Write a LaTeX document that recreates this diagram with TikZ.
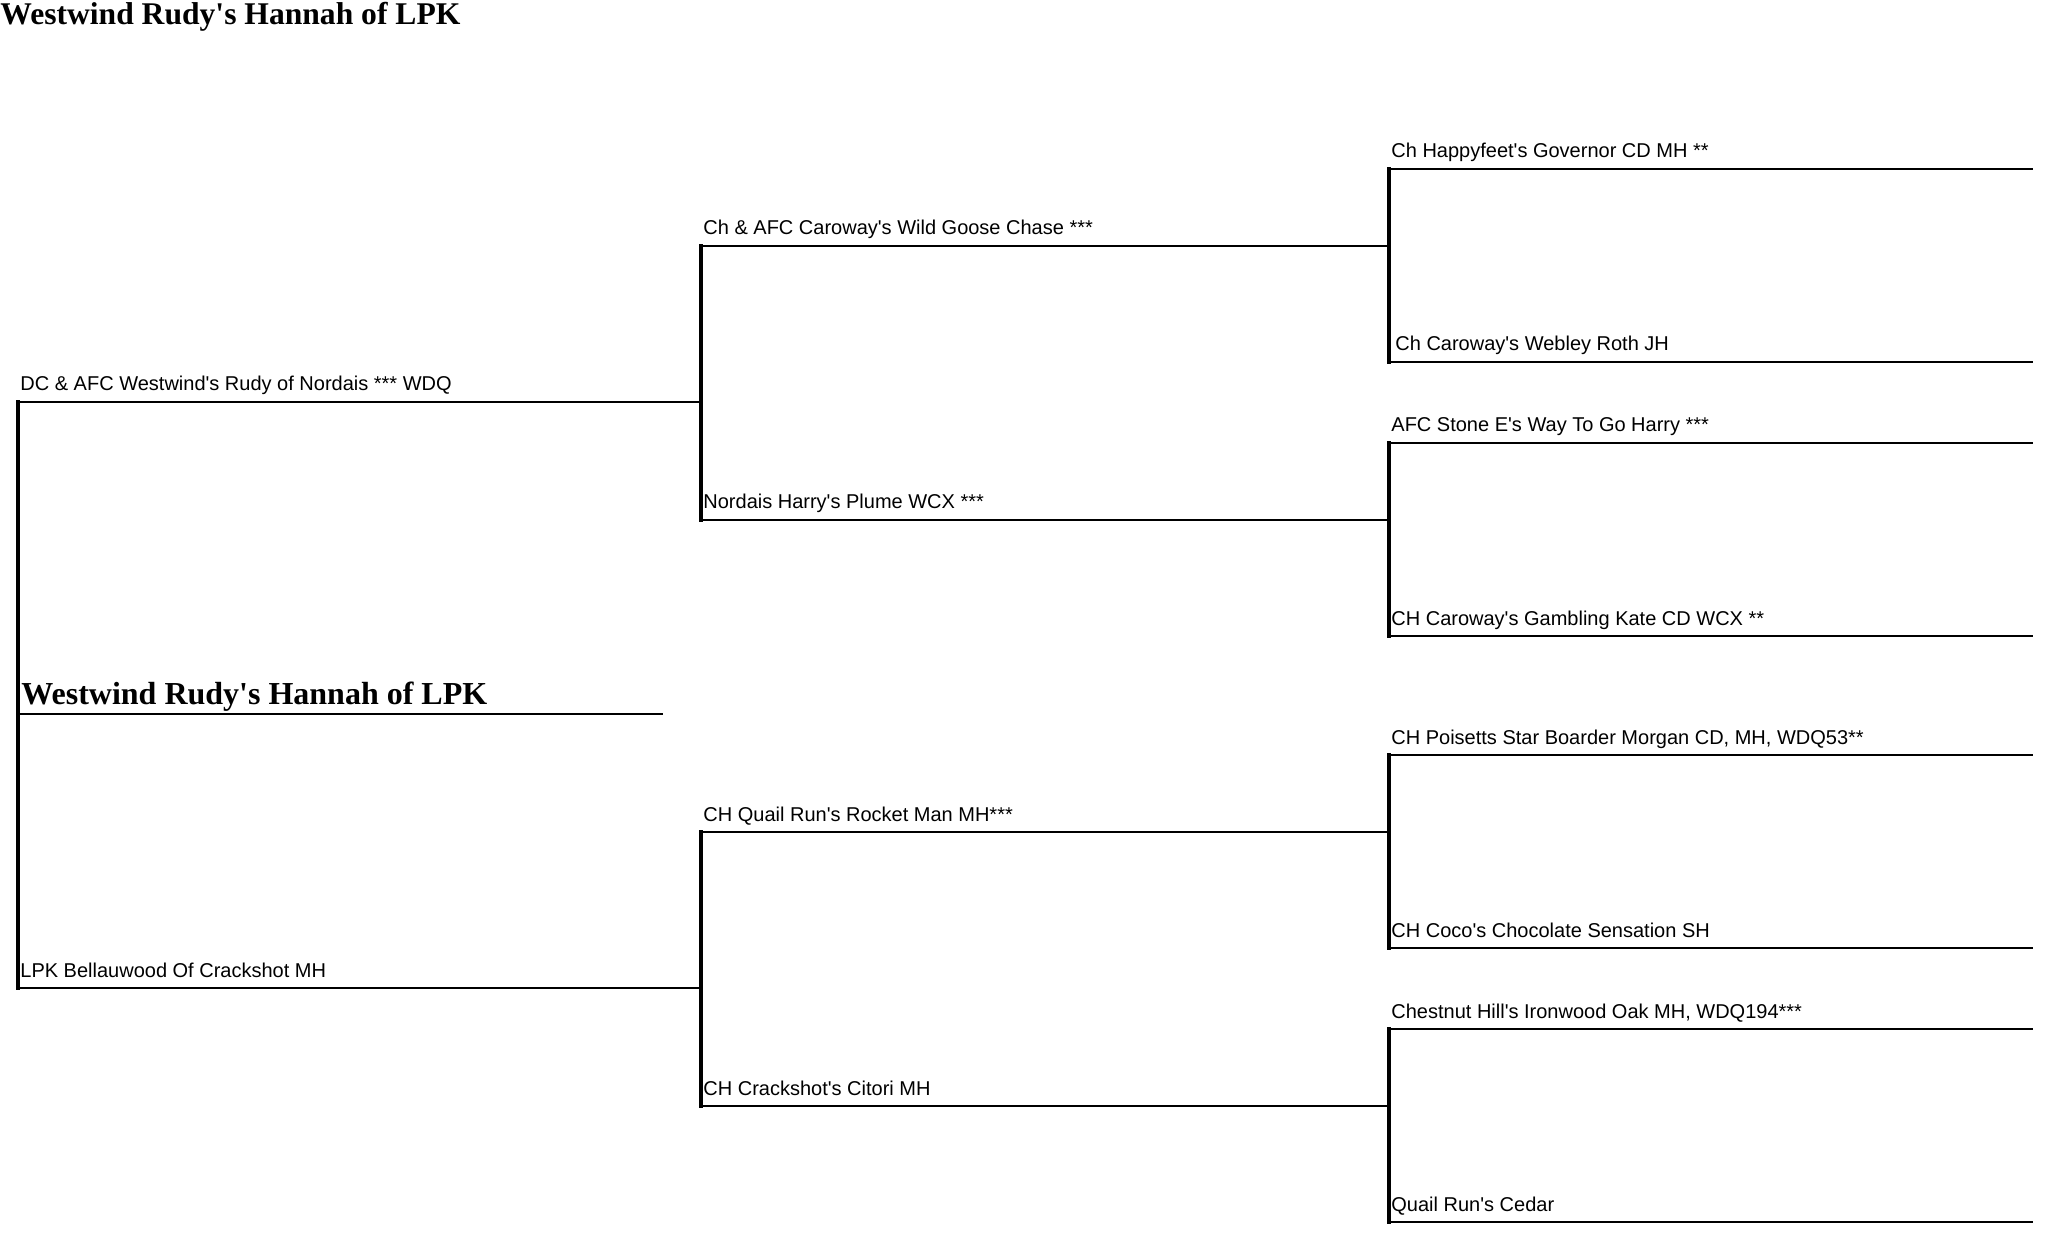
\documentclass[tikz,border=0pt]{standalone}
\usepackage{fontspec}
\setmainfont{Liberation Serif}
\newfontfamily\namefont{Liberation Sans}
\newfontfamily\headfont{Liberation Serif}
\begin{document}
\begin{tikzpicture}[x=0.5pt,y=-0.5pt,
  dogname/.style={font=\namefont\fontsize{10pt}{12pt}\selectfont, anchor=base west, inner sep=0pt},
  headtext/.style={font=\headfont\bfseries\fontsize{16pt}{19pt}\selectfont, anchor=base west, inner sep=0pt},
  hline/.style={line width=1.1pt},
  vline/.style={line width=1.6pt, line cap=rect}]
\useasboundingbox (0,0) rectangle (2048,1240);

% title
\node[headtext, font=\headfont\bfseries\fontsize{15.8pt}{19pt}\selectfont] (toptitle) at (0,25) {Westwind Rudy's Hannah of LPK};

% subject
\coordinate (h-a) at (18,714); \coordinate (h-b) at (663,714);
\node[headtext] (hannah) at (21,704) {Westwind Rudy's Hannah of LPK};
\draw[hline] (h-a) -- (h-b);

% generation 1
\coordinate (s-a) at (18,402); \coordinate (s-b) at (701,402);
\coordinate (d-a) at (18,988); \coordinate (d-b) at (701,988);
\node[dogname] (s) at (20,391) {DC \& AFC Westwind's Rudy of Nordais *** WDQ};
\node[dogname] (d) at (20,977) {LPK Bellauwood Of Crackshot MH};
\draw[hline] (s-a) -- (s-b);
\draw[hline] (d-a) -- (d-b);
\draw[vline] (s-a) -- (d-a);

% generation 2
\coordinate (ss-a) at (701,246);  \coordinate (ss-b) at (1389,246);
\coordinate (sd-a) at (701,520);  \coordinate (sd-b) at (1389,520);
\coordinate (ds-a) at (701,832);  \coordinate (ds-b) at (1389,832);
\coordinate (dd-a) at (701,1106); \coordinate (dd-b) at (1389,1106);
\node[dogname] (ss) at (703,235)  {Ch \& AFC Caroway's Wild Goose Chase ***};
\node[dogname] (sd) at (703,509)  {Nordais Harry's Plume WCX ***};
\node[dogname] (ds) at (703,821)  {CH Quail Run's Rocket Man MH***};
\node[dogname] (dd) at (703,1095) {CH Crackshot's Citori MH};
\foreach \p in {ss,sd,ds,dd} {\draw[hline] (\p-a) -- (\p-b);}
\draw[vline] (ss-a) -- (sd-a);
\draw[vline] (ds-a) -- (dd-a);

% generation 3
\coordinate (sss-a) at (1389,169);  \coordinate (sss-b) at (2033,169);
\coordinate (ssd-a) at (1389,362);  \coordinate (ssd-b) at (2033,362);
\coordinate (sds-a) at (1389,443);  \coordinate (sds-b) at (2033,443);
\coordinate (sdd-a) at (1389,636);  \coordinate (sdd-b) at (2033,636);
\coordinate (dss-a) at (1389,755);  \coordinate (dss-b) at (2033,755);
\coordinate (dsd-a) at (1389,948);  \coordinate (dsd-b) at (2033,948);
\coordinate (dds-a) at (1389,1029); \coordinate (dds-b) at (2033,1029);
\coordinate (ddd-a) at (1389,1222); \coordinate (ddd-b) at (2033,1222);
\node[dogname] (sss) at (1391,158)  {Ch Happyfeet's Governor CD MH **};
\node[dogname] (ssd) at (1395,351)  {Ch Caroway's Webley Roth JH};
\node[dogname] (sds) at (1391,432)  {AFC Stone E's Way To Go Harry ***};
\node[dogname] (sdd) at (1391,625)  {CH Caroway's Gambling Kate CD WCX **};
\node[dogname] (dss) at (1391,744)  {CH Poisetts Star Boarder Morgan CD, MH, WDQ53**};
\node[dogname] (dsd) at (1391,937)  {CH Coco's Chocolate Sensation SH};
\node[dogname] (dds) at (1391,1018) {Chestnut Hill's Ironwood Oak MH, WDQ194***};
\node[dogname] (ddd) at (1391,1211) {Quail Run's Cedar};
\foreach \p in {sss,ssd,sds,sdd,dss,dsd,dds,ddd} {\draw[hline] (\p-a) -- (\p-b);}
\draw[vline] (sss-a) -- (ssd-a);
\draw[vline] (sds-a) -- (sdd-a);
\draw[vline] (dss-a) -- (dsd-a);
\draw[vline] (dds-a) -- (ddd-a);
\end{tikzpicture}
\end{document}
